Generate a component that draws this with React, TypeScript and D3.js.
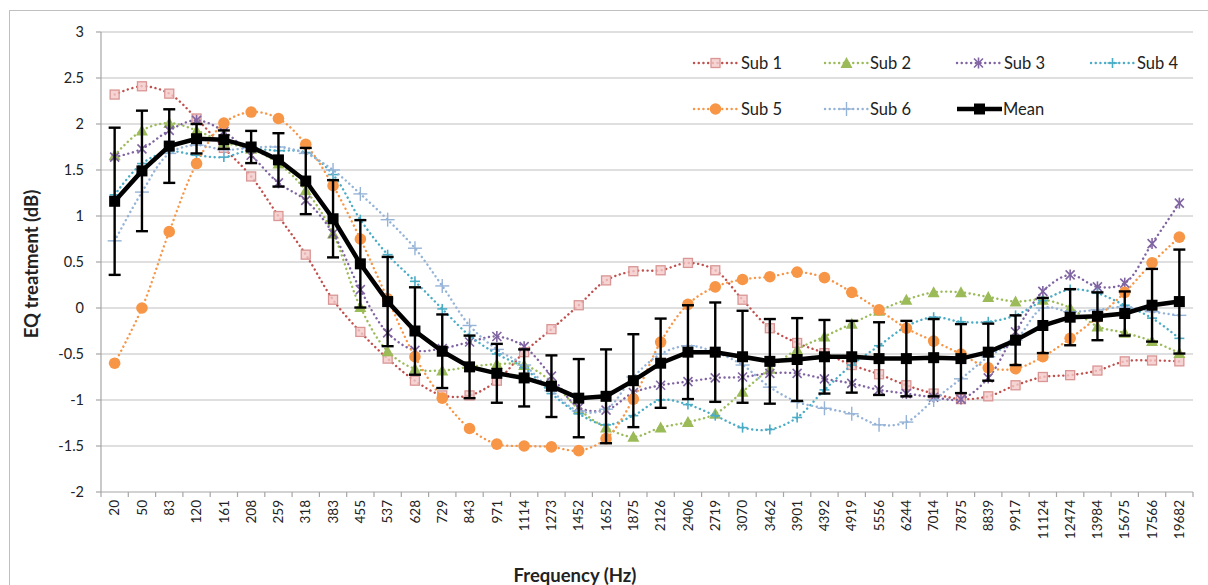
import React from "react";
import * as d3 from "d3";

const categories = ["20","50","83","120","161","208","259","318","383","455","537","628","729","843","971","1114","1273","1452","1652","1875","2126","2406","2719","3070","3462","3901","4392","4919","5556","6244","7014","7875","8839","9917","11124","12474","13984","15675","17566","19682"];

const sub1 = [2.32, 2.41, 2.33, 2.06, 1.74, 1.43, 1.0, 0.58, 0.09, -0.26, -0.55, -0.79, -0.95, -0.95, -0.79, -0.48, -0.23, 0.03, 0.3, 0.4, 0.41, 0.49, 0.41, 0.09, -0.22, -0.38, -0.49, -0.62, -0.72, -0.84, -0.93, -0.99, -0.96, -0.84, -0.75, -0.73, -0.68, -0.58, -0.57, -0.58];
const sub2 = [1.66, 1.93, 2.01, 1.93, 1.8, 1.73, 1.57, 1.28, 0.81, 0.01, -0.47, -0.66, -0.68, -0.64, -0.61, -0.62, -0.8, -1.1, -1.3, -1.4, -1.3, -1.24, -1.15, -0.91, -0.66, -0.45, -0.31, -0.17, -0.03, 0.09, 0.17, 0.17, 0.12, 0.07, 0.09, 0.0, -0.2, -0.27, -0.36, -0.49];
const sub3 = [1.64, 1.73, 1.93, 2.04, 1.92, 1.66, 1.36, 1.17, 0.81, 0.2, -0.27, -0.46, -0.44, -0.37, -0.31, -0.42, -0.74, -1.08, -1.11, -0.92, -0.84, -0.8, -0.76, -0.75, -0.71, -0.71, -0.77, -0.82, -0.89, -0.93, -0.97, -0.99, -0.76, -0.26, 0.18, 0.36, 0.23, 0.27, 0.7, 1.14];
const sub4 = [1.23, 1.57, 1.7, 1.66, 1.64, 1.72, 1.71, 1.69, 1.45, 0.96, 0.58, 0.29, -0.01, -0.3, -0.5, -0.65, -0.93, -1.15, -1.27, -1.17, -1.0, -1.05, -1.17, -1.3, -1.32, -1.19, -0.89, -0.62, -0.41, -0.2, -0.1, -0.15, -0.15, -0.08, 0.08, 0.2, 0.16, 0.03, -0.11, -0.33];
const sub5 = [-0.6, 0.0, 0.83, 1.57, 2.01, 2.13, 2.06, 1.78, 1.33, 0.75, 0.1, -0.53, -0.98, -1.31, -1.48, -1.5, -1.51, -1.55, -1.42, -0.99, -0.37, 0.04, 0.23, 0.31, 0.34, 0.39, 0.33, 0.17, -0.02, -0.22, -0.36, -0.5, -0.65, -0.66, -0.53, -0.33, -0.1, 0.17, 0.49, 0.77];
const sub6 = [0.73, 1.26, 1.68, 1.77, 1.72, 1.74, 1.75, 1.68, 1.5, 1.24, 0.96, 0.65, 0.24, -0.19, -0.45, -0.62, -0.9, -1.12, -1.1, -0.75, -0.5, -0.41, -0.48, -0.62, -0.86, -1.02, -1.09, -1.15, -1.27, -1.24, -1.0, -0.77, -0.53, -0.35, 0.0, -0.04, -0.02, 0.01, -0.04, -0.08];
const meanValues = [1.16, 1.49, 1.76, 1.84, 1.83, 1.75, 1.61, 1.38, 0.97, 0.48, 0.07, -0.25, -0.47, -0.64, -0.71, -0.76, -0.85, -0.98, -0.96, -0.79, -0.6, -0.48, -0.48, -0.53, -0.58, -0.56, -0.53, -0.53, -0.55, -0.55, -0.54, -0.55, -0.48, -0.35, -0.19, -0.1, -0.09, -0.06, 0.03, 0.07];
const meanError = [0.8, 0.655, 0.4, 0.16, 0.1, 0.175, 0.29, 0.36, 0.42, 0.475, 0.485, 0.475, 0.4, 0.34, 0.32, 0.31, 0.335, 0.425, 0.51, 0.505, 0.485, 0.51, 0.54, 0.5, 0.46, 0.45, 0.4, 0.39, 0.395, 0.41, 0.42, 0.375, 0.31, 0.27, 0.3, 0.305, 0.26, 0.24, 0.395, 0.565];

const yTicks = [3, 2.5, 2, 1.5, 1, 0.5, 0, -0.5, -1, -1.5, -2];

const FONT = "Lato, 'Open Sans', sans-serif";

type SeriesDef = { name: string; values: number[]; color: string; marker: string };
const series: SeriesDef[] = [
  { name: "Sub 1", values: sub1, color: "#C0504D", marker: "square" },
  { name: "Sub 2", values: sub2, color: "#9BBB59", marker: "triangle" },
  { name: "Sub 3", values: sub3, color: "#8064A2", marker: "star" },
  { name: "Sub 4", values: sub4, color: "#4BACC6", marker: "plus" },
  { name: "Sub 5", values: sub5, color: "#F79646", marker: "circle" },
  { name: "Sub 6", values: sub6, color: "#95B3D7", marker: "bigplus" },
];

function Marker({ type, x, y, color }: { type: string; x: number; y: number; color: string }) {
  switch (type) {
    case "square":
      return <rect x={x - 4.5} y={y - 4.5} width={9} height={9} fill="#F2C9C8" fillOpacity={0.8} stroke="#D99694" strokeWidth={1.3} />;
    case "triangle":
      return <path d={`M${x},${y - 6}L${x + 6},${y + 5}L${x - 6},${y + 5}Z`} fill={color} />;
    case "star":
      return (
        <g stroke={color} strokeWidth={1.6}>
          <line x1={x - 4.5} y1={y - 4.5} x2={x + 4.5} y2={y + 4.5} />
          <line x1={x - 4.5} y1={y + 4.5} x2={x + 4.5} y2={y - 4.5} />
          <line x1={x} y1={y - 5.5} x2={x} y2={y + 5.5} />
        </g>
      );
    case "plus":
      return (
        <g stroke={color} strokeWidth={1.6}>
          <line x1={x - 5} y1={y} x2={x + 5} y2={y} />
          <line x1={x} y1={y - 5} x2={x} y2={y + 5} />
        </g>
      );
    case "circle":
      return <circle cx={x} cy={y} r={5.8} fill={color} />;
    case "bigplus":
      return (
        <g stroke={color} strokeWidth={1.4}>
          <line x1={x - 7} y1={y} x2={x + 7} y2={y} />
          <line x1={x} y1={y - 7} x2={x} y2={y + 7} />
        </g>
      );
    default:
      return null;
  }
}

export default function App() {
  const W = 1208, H = 585;
  const left = 101, right = 1193, top = 32, bottom = 492;
  const x = d3.scaleBand<string>().domain(categories).range([left, right]).padding(0);
  const y = d3.scaleLinear().domain([-2, 3]).range([bottom, top]);
  const cx = (c: string) => (x(c) as number) + x.bandwidth() / 2;

  const smooth = d3.line<number>().x((_, i) => cx(categories[i])).y((v) => y(v)).curve(d3.curveCatmullRom.alpha(0.5));
  const straight = d3.line<number>().x((_, i) => cx(categories[i])).y((v) => y(v));

  const legendRows = [
    { items: [
      { s: series[0], lx: 694, tx: 741 },
      { s: series[1], lx: 825, tx: 870 },
      { s: series[2], lx: 957, tx: 1004 },
      { s: series[3], lx: 1091, tx: 1137 },
    ], y: 63 },
    { items: [
      { s: series[4], lx: 694, tx: 741 },
      { s: series[5], lx: 825, tx: 870 },
    ], y: 109 },
  ];

  const boundaries = categories.map((c) => x(c) as number).concat([right]);

  return (
    <svg width={W} height={H} style={{ position: "absolute", left: 0, top: 0, background: "#fff" }} fontFamily={FONT}>
      <rect x={9.5} y={10.5} width={1300} height={700} fill="none" stroke="#BFBFBF" strokeWidth={1} />
      {yTicks.map((t) => (
        <line key={"g" + t} x1={left} x2={right} y1={y(t)} y2={y(t)} stroke={t === -2 ? "#A6A6A6" : "#BFBFBF"} strokeWidth={1.2} />
      ))}
      <line x1={left} x2={left} y1={top} y2={bottom} stroke="#A6A6A6" strokeWidth={1.2} />
      {yTicks.map((t) => (
        <g key={"yt" + t}>
          <line x1={left - 5} x2={left} y1={y(t)} y2={y(t)} stroke="#A6A6A6" strokeWidth={1.2} />
          <text x={84} y={y(t)} dy="0.35em" textAnchor="end" fontSize={14.5} fill="#222">{t}</text>
        </g>
      ))}
      {boundaries.map((b, i) => (
        <line key={"xt" + i} x1={b} x2={b} y1={bottom} y2={bottom + 5} stroke="#A6A6A6" strokeWidth={1.2} />
      ))}
      {categories.map((c) => (
        <text key={"xl" + c} transform={`translate(${cx(c)},${bottom + 8}) rotate(-90)`} textAnchor="end" dy="0.35em" fontSize={13.5} fill="#222">{c}</text>
      ))}
      <text transform={`translate(38,${(top + bottom) / 2 + 2}) rotate(-90)`} textAnchor="middle" fontSize={18.5} fontWeight="bold" fill="#222">EQ treatment (dB)</text>
      <text x={575} y={582} textAnchor="middle" fontSize={18.5} fontWeight="bold" fill="#222">Frequency (Hz)</text>

      {series.map((s) => (
        <g key={s.name}>
          <path d={smooth(s.values) as string} fill="none" stroke={s.color} strokeWidth={2.4} strokeDasharray="0.1 4.6" strokeLinecap="round" />
          {s.values.map((v, i) => (
            <Marker key={i} type={s.marker} x={cx(categories[i])} y={y(v)} color={s.color} />
          ))}
        </g>
      ))}

      <path d={straight(meanValues) as string} fill="none" stroke="#000" strokeWidth={4.5} />
      {meanValues.map((v, i) => {
        const px = cx(categories[i]);
        const t = y(v + meanError[i]);
        const b = y(v - meanError[i]);
        return (
          <g key={"m" + i}>
            <line x1={px} x2={px} y1={t} y2={b} stroke="#000" strokeWidth={2.4} />
            <line x1={px - 6} x2={px + 6} y1={t} y2={t} stroke="#000" strokeWidth={2.4} />
            <line x1={px - 6} x2={px + 6} y1={b} y2={b} stroke="#000" strokeWidth={2.4} />
            <rect x={px - 5.5} y={y(v) - 5.5} width={11} height={11} fill="#000" />
          </g>
        );
      })}

      {legendRows.map((row, ri) => (
        <g key={"lr" + ri}>
          {row.items.map(({ s, lx, tx }) => (
            <g key={s.name}>
              <line x1={lx} x2={lx + 43} y1={row.y} y2={row.y} stroke={s.color} strokeWidth={2.4} strokeDasharray="0.1 4.6" strokeLinecap="round" />
              <Marker type={s.marker} x={lx + 21.5} y={row.y} color={s.color} />
              <text x={tx} y={row.y} dy="0.35em" fontSize={16.5} fill="#222">{s.name}</text>
            </g>
          ))}
        </g>
      ))}
      <g>
        <line x1={957} x2={1002} y1={109} y2={109} stroke="#000" strokeWidth={4.5} />
        <rect x={974} y={103.5} width={11} height={11} fill="#000" />
        <text x={1003} y={109} dy="0.35em" fontSize={16.5} fill="#222">Mean</text>
      </g>
    </svg>
  );
}
